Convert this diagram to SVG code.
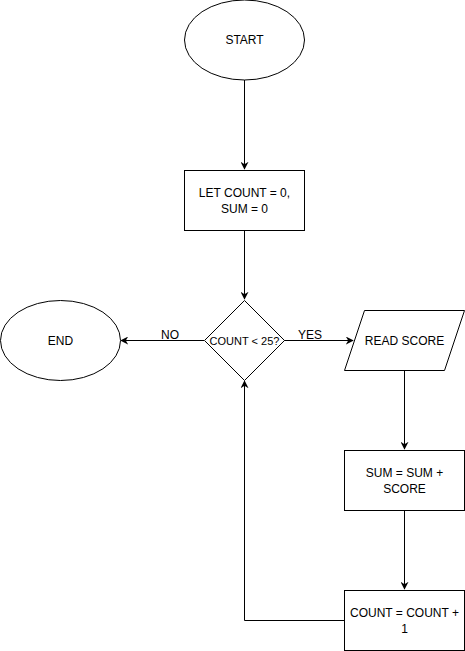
<svg xmlns="http://www.w3.org/2000/svg" width="465" height="651" viewBox="0 0 465 651">
<style>
.s{fill:#fff;stroke:#000;stroke-width:1}
.l{fill:none;stroke:#000;stroke-width:1}
text{font-family:"Liberation Sans",Arial,sans-serif;font-size:12px;fill:#000;text-anchor:middle}
</style>
<defs>
<marker id="a" viewBox="0 0 10 10" refX="9" refY="5" markerWidth="8" markerHeight="8" markerUnits="userSpaceOnUse" orient="auto">
<path d="M0,0 L10,5 L0,10 L3,5 Z" fill="#000"/>
</marker>
</defs>
<rect width="465" height="651" fill="#fff"/>
<g id="connectors">
<path class="l" d="M244.5,80 V169" marker-end="url(#a)"/>
<path class="l" d="M244.5,230 V299" marker-end="url(#a)"/>
<path class="l" d="M204,340.5 H121" marker-end="url(#a)"/>
<path class="l" d="M284,340.5 H353" marker-end="url(#a)"/>
<path class="l" d="M404.5,370 V449" marker-end="url(#a)"/>
<path class="l" d="M404.5,510 V589" marker-end="url(#a)"/>
<path class="l" d="M344,620.5 H244.5 V381" marker-end="url(#a)"/>
<text x="170" y="339">NO</text>
<text x="310" y="339">YES</text>
</g>
<g id="start"><ellipse class="s" cx="244.5" cy="40" rx="60" ry="40"/><text x="244.5" y="44">START</text></g>
<g id="init"><rect class="s" x="184.5" y="170.5" width="120" height="60"/><text x="244.5" y="197">LET COUNT = 0,</text><text x="244.5" y="212.5">SUM = 0</text></g>
<g id="decision"><path class="s" d="M244.5,300.5 L284.5,340.5 L244.5,380.5 L204.5,340.5 Z"/><text x="244.5" y="344.5" style="font-size:11px">COUNT &lt; 25?</text></g>
<g id="end"><ellipse class="s" cx="60.5" cy="340.5" rx="60" ry="40"/><text x="60.5" y="344.5">END</text></g>
<g id="read"><path class="s" d="M364.5,310.5 H464.5 L444.5,370.5 H344.5 Z"/><text x="404.5" y="344.5">READ SCORE</text></g>
<g id="sum"><rect class="s" x="344.5" y="450.5" width="120" height="60"/><text x="404.5" y="477">SUM = SUM +</text><text x="404.5" y="492.5">SCORE</text></g>
<g id="count"><rect class="s" x="344.5" y="590.5" width="120" height="60"/><text x="404.5" y="617">COUNT = COUNT +</text><text x="404.5" y="632.5">1</text></g>
</svg>
